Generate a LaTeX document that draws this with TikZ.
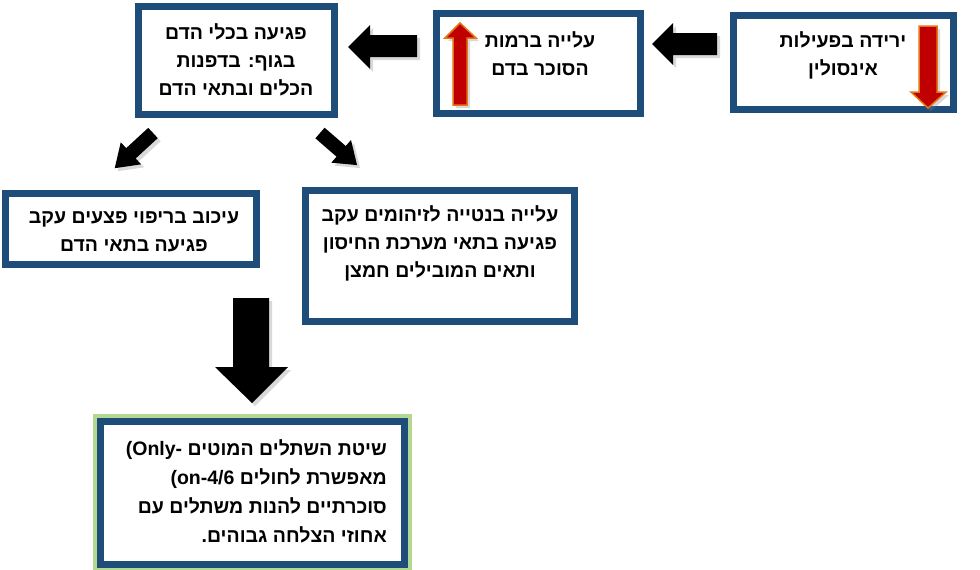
\documentclass[tikz,border=0pt]{standalone}
\usepackage{fontspec}
\newfontfamily\heb[Script=Hebrew]{Liberation Sans}
\newfontfamily\lat{Liberation Sans}
\TeXXeTstate=1
\usetikzlibrary{shadows}
\definecolor{boxblue}{RGB}{31,77,122}
\definecolor{glowgreen}{RGB}{178,216,145}
\definecolor{arrred}{RGB}{192,0,0}
\definecolor{arrorange}{RGB}{228,118,20}
\begin{document}
\begin{tikzpicture}[x=1pt,y=-1pt,
  box/.style={draw=boxblue, line width=7pt, fill=white, inner sep=0pt,
    drop shadow={shadow xshift=3pt, shadow yshift=-3pt, opacity=0.45}},
  txt/.style={font=\heb\bfseries\fontsize{19.5}{28}\selectfont, align=center, inner sep=0pt},
  blk/.style={fill=black, drop shadow={shadow xshift=3pt, shadow yshift=-3pt, opacity=0.3}},
  redarr/.style={fill=arrred, draw=arrorange, line width=1.5pt,
    drop shadow={shadow xshift=3pt, shadow yshift=-3pt, opacity=0.3}}]
\useasboundingbox (0,0) rectangle (980,570);

% boxes
\node[box, minimum width=196pt, minimum height=108pt] (b1) at (236.5,60.5) {};
\node[box, minimum width=204pt, minimum height=100pt] (b2) at (538.5,63.5) {};
\node[box, minimum width=220pt, minimum height=94pt] (b3) at (843.5,62.5) {};
\node[box, minimum width=251pt, minimum height=71pt] (b4) at (131,229) {};
\node[box, minimum width=269pt, minimum height=131pt] (b5) at (440,256) {};
\node[box, minimum width=304pt, minimum height=143pt] (b6) at (252.5,493) {};
\draw[glowgreen, line width=4pt] ([shift={(-2pt,2pt)}]b6.north west) rectangle ([shift={(2pt,-2pt)}]b6.south east);

% texts
\node[txt] (t1) at (236,60) {\beginR פגיעה בכלי הדם\endR\\ \beginR בגוף: בדפנות\endR\\ \beginR הכלים ובתאי הדם\endR};
\node[txt] (t2) at (540,54) {\beginR עלייה ברמות\endR\\ \beginR הסוכר בדם\endR};
\node[txt] (t3) at (843,55) {\beginR ירידה בפעילות\endR\\ \beginR אינסולין\endR};
\node[txt] (t4) at (134,232) {\beginR עיכוב בריפוי פצעים עקב\endR\\ \beginR פגיעה בתאי הדם\endR};
\node[txt] (t5) at (440,243.5) {\beginR עלייה בנטייה לזיהומים עקב\endR\\ \beginR פגיעה בתאי מערכת החיסון\endR\\ \beginR ותאים המובילים חמצן\endR};
\node[txt, font=\heb\bfseries\fontsize{19.5}{29}\selectfont, align=right, anchor=east] (t6) at (387,491) {\beginR שיטת השתלים המוטים \beginL{\lat\bfseries (Only-}\endL\endR\\ \beginR מאפשרת לחולים \beginL{\lat\bfseries (on-4/6}\endL\endR\\ \beginR סוכרתיים להנות משתלים עם\endR\\ \beginR אחוזי הצלחה גבוהים.\endR};

% block arrows
\fill[blk] (348,47) -- (370,25) -- (370,35) -- (417,35) -- (417,57) -- (370,57) -- (370,69) -- cycle;
\fill[blk] (652,44) -- (673,23) -- (673,33) -- (717,33) -- (717,55) -- (673,55) -- (673,65) -- cycle;
\fill[blk] (233,298) -- (269,298) -- (269,367) -- (288,367) -- (252,403) -- (215,367) -- (233,367) -- cycle;
\begin{scope}[shift={(153,133)}, rotate=222.6]
\fill[blk] (0,-7) -- (30,-7) -- (30,-15) -- (52,0) -- (30,15) -- (30,7) -- (0,7) -- cycle;
\end{scope}
\begin{scope}[shift={(320,133)}, rotate=-40.9]
\fill[blk] (0,-7) -- (28,-7) -- (28,-15) -- (49,0) -- (28,15) -- (28,7) -- (0,7) -- cycle;
\end{scope}

% red arrows
\draw[redarr] (460,23) -- (476,38) -- (467,38) -- (467,105) -- (453,105) -- (453,38) -- (445,38) -- cycle;
\draw[redarr] (928,108) -- (946,92) -- (937,92) -- (937,26) -- (919,26) -- (919,92) -- (911,92) -- cycle;
\end{tikzpicture}
\end{document}
